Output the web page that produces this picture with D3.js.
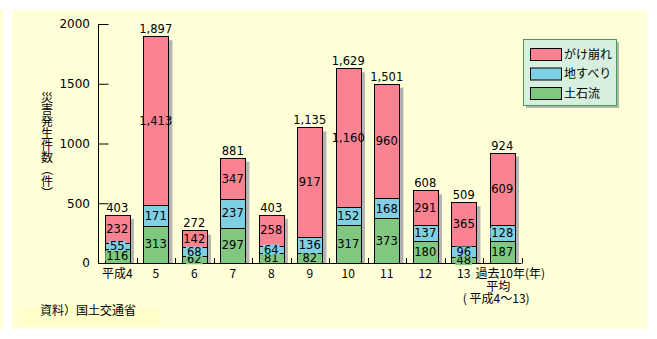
<!DOCTYPE html>
<html><head><meta charset="utf-8">
<script src="https://cdn.jsdelivr.net/npm/d3@7"></script>
<style>
body{margin:0;background:#fff;}
text{font-family:"Noto Sans CJK JP","DejaVu Sans",sans-serif;}
text.num{font-family:"DejaVu Sans",sans-serif;}
</style></head>
<body><svg id="c" width="657" height="339"></svg>
<script>
const categories = ["平成4","5","6","7","8","9","10","11","12","13","過去10年平均"];
const seriesNames = ["土石流","地すべり","がけ崩れ"];
const dosekiryu = [116,313,62,297,81,82,317,373,180,48,187];
const jisuberi = [55,171,68,237,64,136,152,168,137,96,128];
const gakekuzure = [232,1413,142,347,258,917,1160,960,291,365,609];
const totals = [403,1897,272,881,403,1135,1629,1501,608,509,924];
const yTicks = [0,500,1000,1500,2000];
const yTitle = "災害発生件数（件）";
const colors = ["#80c880","#80d0e4","#fb8290"];

const svg = d3.select("#c");
svg.append("rect").attr("x",12).attr("y",10).attr("width",635).attr("height",319).attr("fill","#ffffd8");
svg.append("rect").attr("x",0).attr("y",10).attr("width",3).attr("height",319).attr("fill","#ffffd8");
svg.append("rect").attr("x",18).attr("y",308).attr("width",142).attr("height",17).attr("fill","#ffffcc");

const x = d3.scaleBand().domain(categories).range([98,521.5]).paddingInner(0.34).paddingOuter(0.17);
const y = d3.scaleLinear().domain([0,2000]).range([263,24]);

const data = categories.map((c,i)=>({cat:c,"土石流":dosekiryu[i],"地すべり":jisuberi[i],"がけ崩れ":gakekuzure[i],total:totals[i]}));
const stack = d3.stack().keys(seriesNames)(data);

// shadows
svg.append("g").selectAll("rect").data(data).join("rect")
  .attr("x",d=>x(d.cat)+4).attr("y",d=>y(d.total)+4)
  .attr("width",x.bandwidth()).attr("height",d=>y(0)-y(d.total)-4)
  .attr("fill","#b4b4b4");

// x baseline with boundary ticks
const step = x.step();
svg.append("line").attr("x1",98).attr("x2",521.5).attr("y1",263.5).attr("y2",263.5).attr("stroke","#000");
const bounds = d3.range(1,categories.length+1).map(i=>98+i*step);
svg.append("g").selectAll("line").data(bounds).join("line")
  .attr("x1",d=>Math.round(d)+0.5).attr("x2",d=>Math.round(d)+0.5).attr("y1",258).attr("y2",263.5).attr("stroke","#000");

// bars
stack.forEach((s,k)=>{
  svg.append("g").selectAll("rect").data(s).join("rect")
    .attr("x",d=>Math.round(x(d.data.cat))+0.5).attr("y",d=>Math.round(y(d[1]))+0.5)
    .attr("width",Math.round(x.bandwidth())).attr("height",d=>Math.round(y(d[0]))-Math.round(y(d[1])))
    .attr("fill",colors[k]).attr("stroke","#000").attr("stroke-width",1);
});
// segment labels
stack.forEach((s,k)=>{
  const g = svg.append("g");
  s.forEach(d=>{
    const v = d[1]-d[0];
    const cx = x(d.data.cat)+x.bandwidth()/2;
    const cy = y((d[0]+d[1])/2);
    const t = g.append("text").attr("class","num").attr("x",cx).attr("y",cy).attr("dy","0.36em")
      .attr("text-anchor","middle").attr("font-size",11.5).attr("fill","#000")
      .text(d3.format(",")(v));
    if (y(d[0])-y(d[1]) < 16) {
      const bb = t.node().getBBox();
      g.insert("rect","text").attr("x",bb.x-1).attr("y",cy-5).attr("width",bb.width+2).attr("height",10).attr("fill",colors[k]);
    }
  });
});
// total labels
svg.append("g").selectAll("text").data(data).join("text").attr("class","num")
  .attr("x",d=>x(d.cat)+x.bandwidth()/2).attr("y",d=>y(d.total)-3)
  .attr("text-anchor","middle").attr("font-size",11.5).text(d=>d3.format(",")(d.total));

// y axis
const ya = svg.append("g").attr("transform","translate(98.5,0)")
  .call(d3.axisRight(y).tickValues(yTicks).tickSize(10).tickFormat(""));
ya.select(".domain").attr("d","M0,"+y(2000)+"V"+(y(0)+0.5));
ya.selectAll(".tick line").attr("stroke","#000");
svg.append("g").selectAll("text").data(yTicks).join("text").attr("class","num")
  .attr("x",90).attr("y",d=>y(d)).attr("dy","0.36em").attr("text-anchor","end")
  .attr("font-size",12).text(d=>d);

// x labels
svg.append("g").selectAll("text").data(categories.slice(0,10)).join("text")
  .attr("x",d=>x(d)+x.bandwidth()/2).attr("y",278).attr("text-anchor","middle")
  .attr("font-size",12).text(d=>d);
const lastX = x(categories[10])+x.bandwidth()/2;
svg.append("text").attr("x",lastX-2).attr("y",278).attr("text-anchor","middle").attr("font-size",12).text("過去10年");
svg.append("text").attr("x",lastX-4).attr("y",291).attr("text-anchor","middle").attr("font-size",12).text("平均");
svg.append("text").attr("x",lastX-6).attr("y",303).attr("text-anchor","middle").attr("font-size",12).text("( 平成4～13)");
svg.append("text").attr("x",525).attr("y",278).attr("text-anchor","start").attr("font-size",12).text("(年)");

// y title (vertical)
svg.append("text").attr("x",47).attr("y",91)
  .style("writing-mode","vertical-rl").style("text-orientation","upright")
  .attr("font-size",12).text(yTitle);

// legend
svg.append("rect").attr("x",526).attr("y",42).attr("width",93).attr("height",66).attr("fill","#b4b4b4");
svg.append("rect").attr("x",523.5).attr("y",39.5).attr("width",93).attr("height",66).attr("fill","#d8f0e0").attr("stroke","#40a050");
const legItems = [2,1,0];
legItems.forEach((k,i)=>{
  svg.append("rect").attr("x",530.5).attr("y",48.5+i*19.5).attr("width",31).attr("height",12).attr("fill",colors[k]).attr("stroke","#000");
  svg.append("text").attr("x",564).attr("y",54.5+i*19.5).attr("dy","0.36em").attr("font-size",12).text(seriesNames[k]);
});

// source
svg.append("text").attr("x",40).attr("y",315).attr("font-size",12).text("資料）国土交通省");
</script></body></html>
